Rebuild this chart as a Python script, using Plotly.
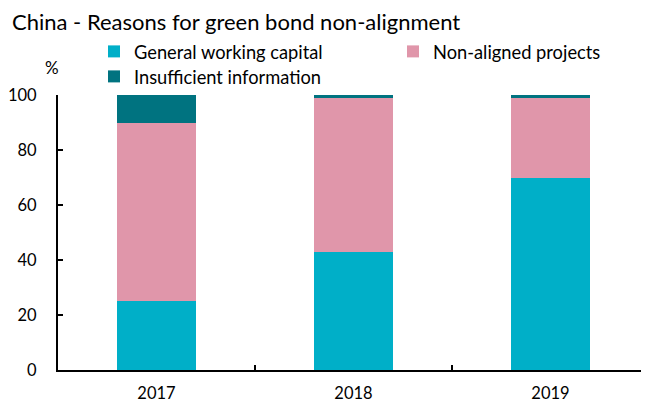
import plotly.graph_objects as go

years = ["2017", "2018", "2019"]
general_working_capital = [25, 43, 70]
non_aligned_projects = [65, 56, 29]
insufficient_information = [10, 1, 1]

FONT = "Lato"
# page body has an 8px margin, so the figure is sized to the visible area
W, H = 641, 395
L, R, T, B = 50, 0, 87, 33
PW, PH = W - L - R, H - T - B


def legend_at(px_left, px_top):
    return dict(orientation="h", x=(px_left - L) / PW, xanchor="left",
                y=1 + (T - px_top) / PH, yanchor="top",
                font=dict(size=18.3), bgcolor="rgba(0,0,0,0)")


fig = go.Figure()
fig.add_trace(go.Bar(x=years, y=general_working_capital, name="General working capital",
                     legend="legend",
                     marker=dict(color="#00AFC8", line=dict(width=0))))
fig.add_trace(go.Bar(x=years, y=non_aligned_projects, name="Non-aligned projects",
                     legend="legend2",
                     marker=dict(color="#E096AA", line=dict(width=0))))
fig.add_trace(go.Bar(x=years, y=insufficient_information, name="Insufficient information",
                     legend="legend3",
                     marker=dict(color="#007380", line=dict(width=0))))

fig.update_layout(
    width=W, height=H,
    barmode="stack", bargap=0.6,
    margin=dict(l=L, r=R, t=T, b=B),
    paper_bgcolor="white", plot_bgcolor="white",
    font=dict(family=FONT, size=16.5, color="black"),
    title=dict(text="China - Reasons for green bond non-alignment",
               x=4 / W, xanchor="left", y=1 - 14 / H, yanchor="middle",
               font=dict(family=FONT, size=22, color="black")),
    showlegend=True,
    legend=legend_at(86, 25),
    legend2=legend_at(385, 25),
    legend3=legend_at(86, 50),
    xaxis=dict(type="category", showline=True, linecolor="black", linewidth=2,
               ticks="inside", ticklen=5, tickwidth=2, tickcolor="black",
               tickson="boundaries", showgrid=False, ticklabelstandoff=7,
               automargin=False),
    yaxis=dict(range=[0, 100], dtick=20, showline=True, linecolor="black", linewidth=2,
               ticks="inside", ticklen=5, tickwidth=2, tickcolor="black",
               showgrid=False, zeroline=False, ticklabelstandoff=16,
               automargin=False),
    annotations=[dict(text="%", xref="paper", yref="paper",
                      x=(44 - L) / PW, y=1 + (T - 59) / PH,
                      xanchor="center", yanchor="middle", showarrow=False,
                      font=dict(size=17))],
)

fig.write_html("out.html")
